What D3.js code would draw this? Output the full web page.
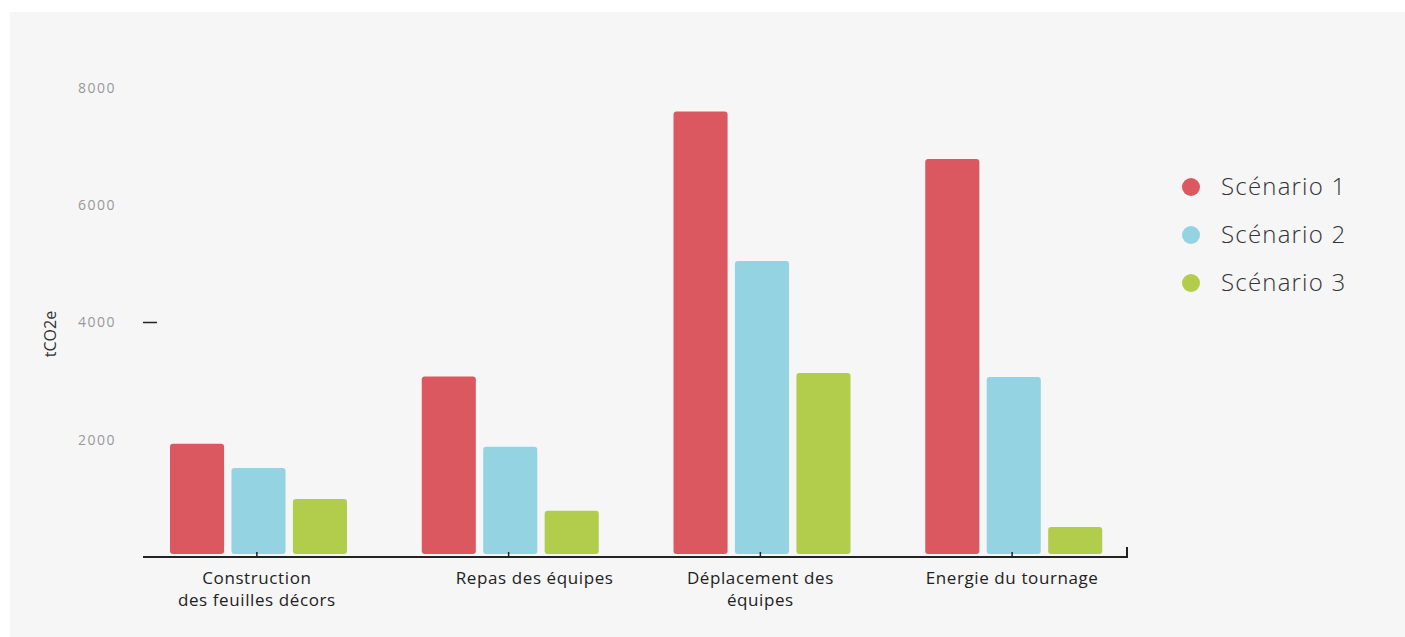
<!DOCTYPE html>
<meta charset="utf-8">
<style>
body { margin: 0; background: #fff; }
svg { display: block; font-family: "Open Sans", "Noto Sans", sans-serif; }
.ytick text { fill: #999; font-size: 14px; letter-spacing: 1.5px; }
.xaxis text { fill: #222; font-size: 17px; letter-spacing: 0.6px; }
.legend text { fill: #333; font-size: 24px; font-weight: 300; letter-spacing: 1.2px; }
</style>
<svg width="1405" height="637"></svg>
<script src="https://d3js.org/d3.v7.min.js"></script>
<script>
// donnees
var categories = ["Construction|des feuilles  décors", "Repas des équipes", "Déplacement des|équipes", "Energie du tournage"];
var scenarios = ["Scénario 1", "Scénario 2", "Scénario 3"];
var scenario1 = [1930, 3080, 7600, 6790];
var scenario2 = [1520, 1880, 5050, 3070];
var scenario3 = [990, 790, 3140, 510];
var yTicks = [2000, 4000, 6000, 8000];
var couleurs = ["#db5860", "#93d3e2", "#b2cd4b"];

var svg = d3.select("svg");
var series = [scenario1, scenario2, scenario3];

// fond gris
svg.append("rect").attr("x", 10).attr("y", 12).attr("width", 1395).attr("height", 625).attr("fill", "#f6f6f6");

var x0 = d3.scaleBand().domain(categories).range([131, 1138]);
var x1 = d3.scaleBand().domain(scenarios).range([39, 216]).paddingInner(0.12);
var y = d3.scaleLinear().domain([0, 8000]).range([557, 88]);
var color = d3.scaleOrdinal().domain(scenarios).range(couleurs);

// barres
var g = svg.append("g");
categories.forEach(function(c, i) {
  g.selectAll(null)
    .data(scenarios.map(function(s, j) { return {s: s, v: series[j][i]}; }))
    .enter().append("rect")
      .attr("x", d => x0(c) + x1(d.s))
      .attr("y", d => y(d.v))
      .attr("width", x1.bandwidth())
      .attr("height", d => y(0) - 3 - y(d.v))
      .attr("rx", 3)
      .attr("fill", d => color(d.s));
});

// axe x
var xa = svg.append("g").attr("class", "xaxis");
xa.append("line").attr("x1", 143).attr("x2", 1127).attr("y1", 557).attr("y2", 557)
  .attr("stroke", "#222").attr("stroke-width", 2);
xa.append("line").attr("x1", 1127).attr("x2", 1127).attr("y1", 547).attr("y2", 558)
  .attr("stroke", "#222").attr("stroke-width", 2);
xa.selectAll(".tk").data(categories).enter().append("line")
  .attr("x1", d => x0(d) + x0.bandwidth() / 2).attr("x2", d => x0(d) + x0.bandwidth() / 2)
  .attr("y1", 552).attr("y2", 557).attr("stroke", "#222").attr("stroke-width", 1.5);
var labs = xa.selectAll(".lab").data(categories).enter().append("text")
  .attr("x", d => x0(d) + x0.bandwidth() / 2 + (d === "Repas des équipes" ? 26 : 0))
  .attr("y", 584)
  .attr("text-anchor", "middle");
labs.each(function(d) {
  var t = d3.select(this);
  d.split("|").forEach(function(l, k) {
    t.append("tspan").attr("x", t.attr("x")).attr("dy", k ? 22 : 0).text(l);
  });
});

// axe y
var ya = svg.append("g").attr("class", "ytick");
ya.selectAll("text").data(yTicks).enter().append("text")
  .attr("x", 78).attr("y", d => y(d)).attr("dy", "0.35em").text(d => d);
ya.append("line").attr("x1", 143).attr("x2", 157).attr("y1", y(4000)).attr("y2", y(4000))
  .attr("stroke", "#222").attr("stroke-width", 1.5);
svg.append("text")
  .attr("transform", "translate(56," + 334 + ") rotate(-90)")
  .attr("text-anchor", "middle")
  .attr("fill", "#333").attr("font-size", 16)
  .text("tCO2e");

// legende
var leg = svg.append("g").attr("class", "legend")
  .selectAll("g").data(scenarios).enter().append("g")
  .attr("transform", (d, i) => "translate(1191," + (187 + i * 48) + ")");
leg.append("circle").attr("r", 9).attr("fill", d => color(d));
leg.append("text").attr("x", 30).attr("dy", "0.35em").text(d => d);
</script>
